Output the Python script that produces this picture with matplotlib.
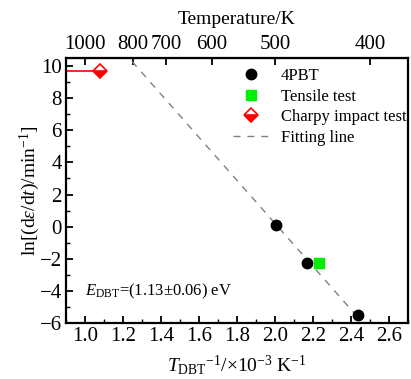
import matplotlib
matplotlib.use("Agg")
import matplotlib.pyplot as plt
import numpy as np

# datos
x_4pbt = [2.007, 2.17, 2.437]
y_4pbt = [0.12, -2.27, -5.52]
x_tensile = [2.23]
y_tensile = [-2.25]
x_charpy = [1.08]
y_charpy = [9.7]
charpy_xerr_low = [0.25]
fit_slope = -13.4
fit_intercept = 27.0
temp_ticks = [1000, 800, 700, 600, 500, 400]

plt.rcParams['font.family'] = ['Liberation Serif', 'DejaVu Serif']
plt.rcParams['mathtext.fontset'] = 'custom'
plt.rcParams['mathtext.rm'] = 'Liberation Serif'
plt.rcParams['mathtext.it'] = 'Liberation Serif:italic'

fig = plt.figure(figsize=(4.11, 3.79), dpi=100)
ax = fig.add_axes([0.1606, 0.1478, 0.8321, 0.6992])

xs = np.linspace(0.9, 2.7, 100)
ax.plot(xs, fit_intercept + fit_slope * xs, ls=(0, (5, 5)), color="#808080", lw=1.0,
        label="Fitting line", zorder=1)
ax.errorbar(x_charpy, y_charpy, xerr=[charpy_xerr_low, [0]], fmt="none", ecolor="red",
            elinewidth=1.2, capsize=0, zorder=2)
ax.plot(x_4pbt, y_4pbt, "o", color="black", ms=7.5, label="4PBT", zorder=3)
ax.plot(x_tensile, y_tensile, "s", color="#00ee00", ms=7, label="Tensile test", zorder=3)
ax.plot(x_charpy, y_charpy, "D", color="red", mec="red", mfc="red", fillstyle="bottom",
        markerfacecoloralt="white", ms=7, mew=1.2, label="Charpy impact test", zorder=3)

ax.set_xlim(0.9, 2.7)
ax.set_ylim(-6, 10.5)
ax.set_xticks(np.arange(1.0, 2.61, 0.2))
ax.set_xticks(np.arange(0.9, 2.71, 0.1), minor=True)
ax.set_yticks(np.arange(-6, 10.1, 2))
ax.set_yticks(np.arange(-6, 10.6, 1), minor=True)
ax.set_xticklabels([f"{v:.1f}" for v in np.arange(1.0, 2.61, 0.2)])
ax.tick_params(which="both", direction="in", top=False, right=False, labelsize=15)
ax.tick_params(which="major", length=5, width=1.3, pad=3)
ax.tick_params(which="minor", length=3, width=1.0)
for s in ax.spines.values():
    s.set_linewidth(1.6)

ax.set_xlabel(r"$T_{\mathrm{DBT}}$$^{-1}$/$\times$10$^{-3}$ K$^{-1}$", fontsize=14, labelpad=5)
ax.set_ylabel(r"ln[(d$\varepsilon$/d$t$)/min$^{-1}$]", fontsize=14, labelpad=-2)

# eje superior de temperatura
top = ax.secondary_xaxis("top", functions=(lambda v: 1000.0 / np.clip(v, 1e-6, None),
                                           lambda v: 1000.0 / np.clip(v, 1e-6, None)))
top.set_xticks(temp_ticks)
top.set_xticklabels([str(t) for t in temp_ticks])
top.xaxis.set_minor_locator(matplotlib.ticker.NullLocator())
top.tick_params(direction="in", length=5, width=1.3, labelsize=15, pad=3)
top.set_xlabel("Temperature/K", fontsize=14, labelpad=8)

ax.text(1.0, -4.05, r"$E_{\mathrm{DBT}}$=(1.13$\pm$0.06) eV", fontsize=12, va="center")

h, l = ax.get_legend_handles_labels()
order = [1, 2, 3, 0]
ax.legend([h[i] for i in order], [l[i] for i in order], loc="upper right",
          bbox_to_anchor=(1.025, 1.0), frameon=False, fontsize=12, handlelength=2.2,
          labelspacing=0.28, handletextpad=0.7, borderaxespad=0.2)

fig.savefig("out.png", dpi=100)
